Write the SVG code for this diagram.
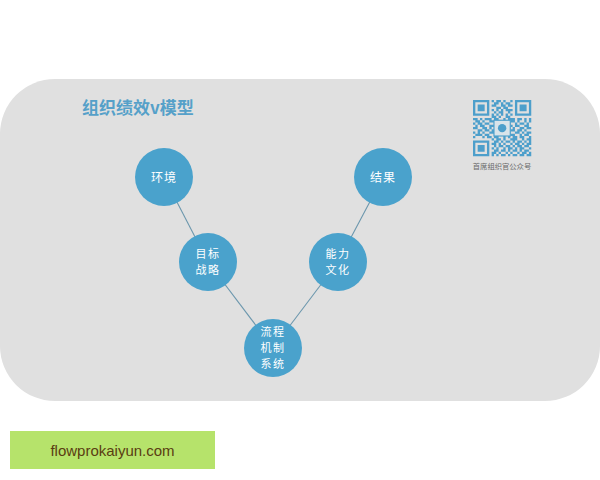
<svg xmlns="http://www.w3.org/2000/svg" width="600" height="480" viewBox="0 0 600 480">
<style>
.node circle{fill:#4aa2cc}
.node text{fill:#ffffff;font-family:"Noto Sans CJK SC","Liberation Sans",sans-serif;font-size:11px;text-anchor:middle;letter-spacing:1.5px}
.node text.one{font-size:12px;letter-spacing:1px}
.edge{stroke:#6c97ad;stroke-width:1.1;fill:none}
.qr{fill:#4d9fcb}
</style>
<rect x="0" y="0" width="600" height="480" fill="#ffffff"/>
<rect id="panel" x="0" y="79" width="600" height="322" rx="55" ry="55" fill="#e0e0e0"/>
<text id="title" x="82" y="114" font-family="'Noto Sans CJK SC','Liberation Sans',sans-serif" font-size="17" font-weight="bold" fill="#55a0c9">组织绩效v模型</text>
<g id="connectors">
<line class="edge" x1="164" y1="177" x2="208" y2="262"/>
<line class="edge" x1="208" y1="262" x2="273" y2="348"/>
<line class="edge" x1="273" y1="348" x2="338" y2="262"/>
<line class="edge" x1="338" y1="262" x2="383" y2="177"/>
</g>
<g id="n-huanjing" class="node"><circle cx="164" cy="177" r="29"/><text class="one" x="164" y="182">环境</text></g>
<g id="n-jieguo" class="node"><circle cx="383" cy="177" r="29"/><text class="one" x="383" y="182">结果</text></g>
<g id="n-mubiao" class="node"><circle cx="208" cy="262" r="29"/><text x="208" y="258">目标</text><text x="208" y="274">战略</text></g>
<g id="n-nengli" class="node"><circle cx="338" cy="262" r="29"/><text x="338" y="258">能力</text><text x="338" y="274">文化</text></g>
<g id="n-liucheng" class="node"><circle cx="273" cy="348" r="29"/><text x="273" y="336">流程</text><text x="273" y="352">机制</text><text x="273" y="368">系统</text></g>
<g id="qrcode" transform="translate(473,100) scale(2.33,2.25)">
<path class="qr" fill-rule="evenodd" d="M0 0h7v7h-7z M1 1v5h5v-5z M18 0h7v7h-7z M19 1v5h5v-5z M0 18h7v7h-7z M1 19v5h5v-5z"/>
<path class="qr" d="M2 2h3v3h-3z M20 2h3v3h-3z M2 20h3v3h-3z"/>
<path class="qr" d="M8 0h1v1h-1z M10 0h2v1h-2z M13 0h1v1h-1z M16 0h1v1h-1z
M9 1h2v1h-2z M12 1h1v1h-1z M14 1h2v1h-2z
M8 2h2v1h-2z M12 2h2v1h-2z M15 2h2v1h-2z
M10 3h2v1h-2z M13 3h2v1h-2z
M8 4h1v1h-1z M10 4h1v1h-1z M12 4h1v1h-1z M14 4h3v1h-3z
M9 5h1v1h-1z M11 5h2v1h-2z M15 5h1v1h-1z
M8 6h1v1h-1z M10 6h1v1h-1z M12 6h1v1h-1z M14 6h1v1h-1z M16 6h1v1h-1z
M8 7h2v1h-2z M11 7h1v1h-1z M14 7h2v1h-2z
M0 8h2v1h-2z M3 8h1v1h-1z M5 8h3v1h-3z M9 8h2v1h-2z M13 8h1v1h-1z M15 8h3v1h-3z M19 8h2v1h-2z M22 8h1v1h-1z M24 8h1v1h-1z
M1 9h2v1h-2z M4 9h1v1h-1z M7 9h2v1h-2z M10 9h2v1h-2z M13 9h1v1h-1z M16 9h2v1h-2z M19 9h1v1h-1z M22 9h1v1h-1z M24 9h1v1h-1z
M0 10h1v1h-1z M2 10h2v1h-2z M5 10h2v1h-2z M9 10h2v1h-2z M12 10h1v1h-1z M14 10h2v1h-2z M18 10h1v1h-1z M20 10h2v1h-2z M23 10h1v1h-1z
M1 11h1v1h-1z M3 11h2v1h-2z M7 11h2v1h-2z M11 11h1v1h-1z M13 11h2v1h-2z M16 11h1v1h-1z M18 11h2v1h-2z M22 11h2v1h-2z
M0 12h2v1h-2z M4 12h2v1h-2z M7 12h1v1h-1z M9 12h2v1h-2z M12 12h1v1h-1z M15 12h1v1h-1z M17 12h1v1h-1z M20 12h2v1h-2z M23 12h2v1h-2z
M2 13h2v1h-2z M5 13h2v1h-2z M8 13h1v1h-1z M11 13h2v1h-2z M14 13h1v1h-1z M16 13h2v1h-2z M19 13h2v1h-2z M22 13h1v1h-1z
M0 14h1v1h-1z M2 14h1v1h-1z M4 14h1v1h-1z M7 14h2v1h-2z M10 14h1v1h-1z M12 14h2v1h-2z M15 14h1v1h-1z M18 14h2v1h-2z M21 14h1v1h-1z M23 14h2v1h-2z
M1 15h3v1h-3z M5 15h2v1h-2z M9 15h1v1h-1z M11 15h1v1h-1z M14 15h1v1h-1z M16 15h2v1h-2z M20 15h1v1h-1z M22 15h2v1h-2z
M0 16h1v1h-1z M4 16h1v1h-1z M6 16h2v1h-2z M9 16h2v1h-2z M13 16h1v1h-1z M15 16h1v1h-1z M17 16h2v1h-2z M20 16h2v1h-2z M24 16h1v1h-1z
M8 17h1v1h-1z M10 17h2v1h-2z M13 17h1v1h-1z M16 17h3v1h-3z M21 17h1v1h-1z M23 17h2v1h-2z
M9 18h2v1h-2z M12 18h1v1h-1z M14 18h2v1h-2z M17 18h1v1h-1z M19 18h2v1h-2z M22 18h1v1h-1z M24 18h1v1h-1z
M8 19h2v1h-2z M11 19h1v1h-1z M13 19h1v1h-1z M16 19h1v1h-1z M18 19h2v1h-2z M21 19h1v1h-1z M23 19h2v1h-2z
M9 20h1v1h-1z M11 20h2v1h-2z M14 20h2v1h-2z M17 20h1v1h-1z M19 20h2v1h-2z M22 20h2v1h-2z
M8 21h1v1h-1z M10 21h1v1h-1z M13 21h1v1h-1z M15 21h2v1h-2z M18 21h1v1h-1z M20 21h2v1h-2z M24 21h1v1h-1z
M9 22h2v1h-2z M12 22h2v1h-2z M15 22h1v1h-1z M17 22h2v1h-2z M20 22h1v1h-1z M22 22h2v1h-2z
M8 23h2v1h-2z M11 23h1v1h-1z M14 23h1v1h-1z M16 23h1v1h-1z M19 23h1v1h-1z M21 23h2v1h-2z M24 23h1v1h-1z
M8 24h1v1h-1z M10 24h1v1h-1z M12 24h2v1h-2z M15 24h1v1h-1z M17 24h2v1h-2z M20 24h2v1h-2z M23 24h2v1h-2z"/>
<rect x="9" y="9" width="7" height="7" fill="#d9e4ea" stroke="#4d9fcb" stroke-width="0.5"/>
<circle cx="12.5" cy="12.5" r="1.8" fill="#4d9fcb"/>
</g>
<text id="qr-caption" x="502" y="169" font-family="'Noto Sans CJK SC','Liberation Sans',sans-serif" font-size="7.3" fill="#6a6a6a" text-anchor="middle">首席组织官公众号</text>
<g id="watermark">
<rect x="10" y="431" width="205" height="38" fill="#b6e36b"/>
<text x="112.5" y="456" font-family="'Liberation Sans',Arial,sans-serif" font-size="15" fill="#5a3d12" text-anchor="middle">flowprokaiyun.com</text>
</g>
</svg>
